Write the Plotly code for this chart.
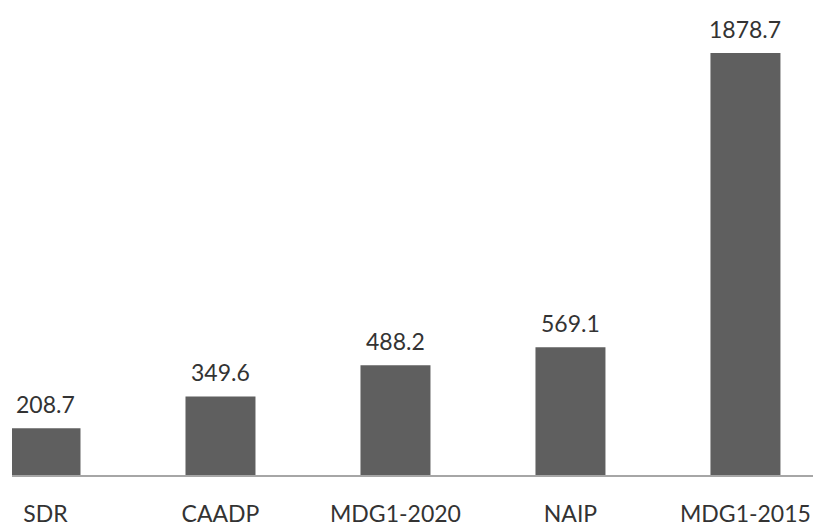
import plotly.graph_objects as go

categories = ["SDR", "CAADP", "MDG1-2020", "NAIP", "MDG1-2015"]
values = [208.7, 349.6, 488.2, 569.1, 1878.7]
value_labels = ["208.7", "349.6", "488.2", "569.1", "1878.7"]

xs = list(range(len(categories)))

fig = go.Figure()
fig.add_trace(go.Bar(
    x=xs, y=values, width=0.4,
    marker=dict(color="#5f5f5f", line=dict(width=0)),
    hoverinfo="skip",
))

for x, v, t in zip(xs, values, value_labels):
    fig.add_annotation(x=x, y=v, text=t, showarrow=False, yanchor="bottom",
                       yshift=8, font=dict(family="Lato", size=23, color="#333333"))

fig.update_layout(
    width=813, height=526,
    margin=dict(l=12, r=0, t=0, b=51),
    plot_bgcolor="white", paper_bgcolor="white",
    showlegend=False,
    font=dict(family="Lato", size=23, color="#333333"),
)
fig.update_xaxes(
    range=[-0.1914, 4.386],
    tickvals=xs, ticktext=categories,
    showgrid=False, zeroline=False,
    showline=True, linecolor="#a6a6a6", linewidth=1.5,
    ticks="", ticklabelstandoff=18,
    tickfont=dict(family="Lato", size=23, color="#333333"),
)
fig.update_yaxes(range=[0, 2115], visible=False, showgrid=False, zeroline=False)

fig.write_html("out.html")
